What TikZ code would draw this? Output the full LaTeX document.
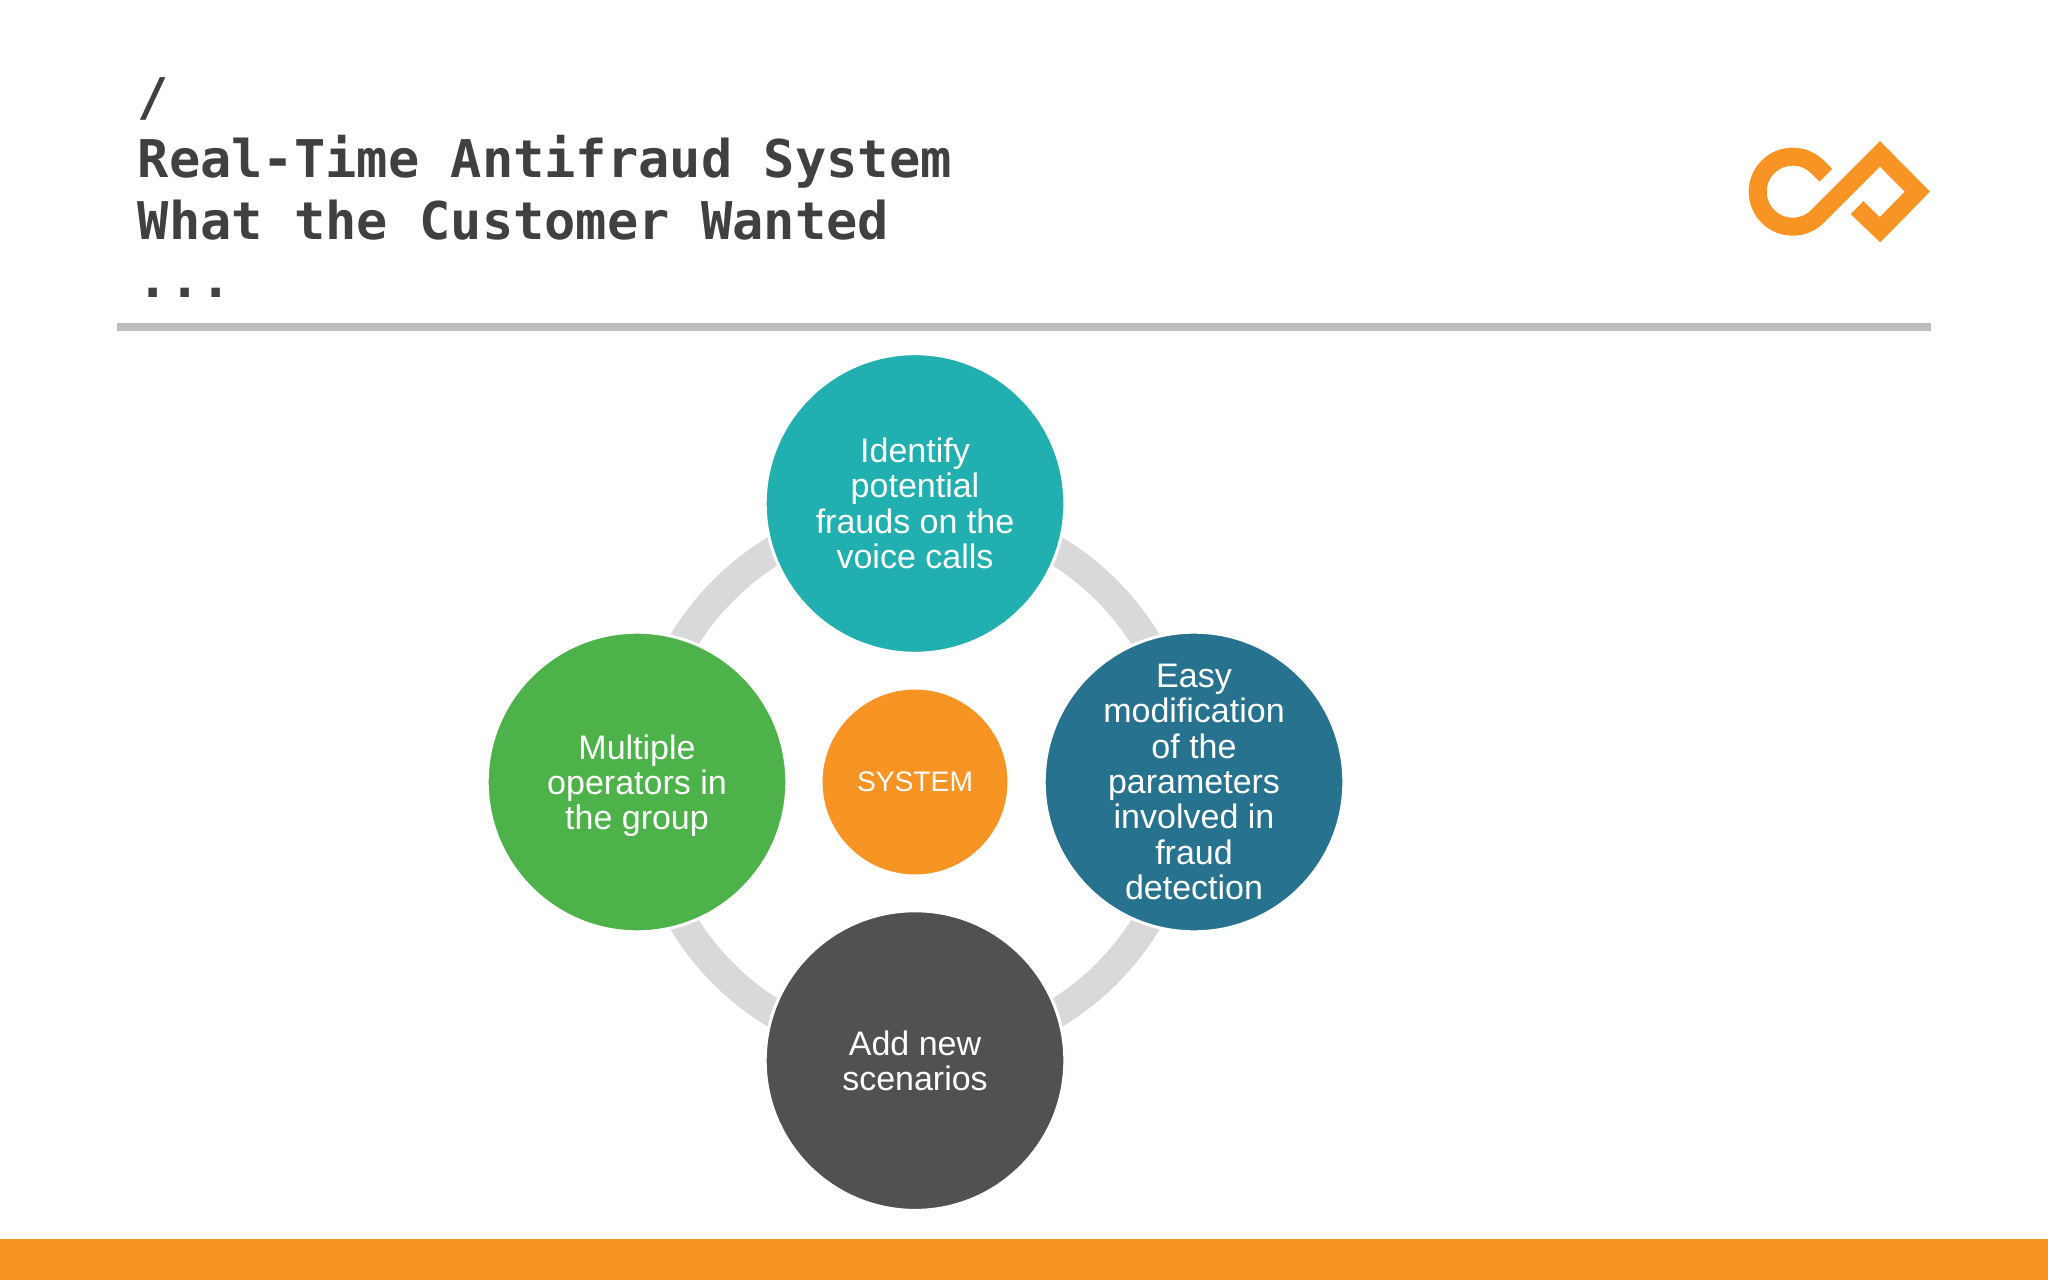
\documentclass[tikz,border=0pt]{standalone}
\usepackage{fontspec}
\setmainfont{Liberation Sans}
\newfontfamily\titlefont{DejaVu Sans Mono}[BoldFont={DejaVu Sans Mono Bold}]
\definecolor{orangeA}{HTML}{F79423}
\definecolor{tealA}{HTML}{22AFAF}
\definecolor{blueA}{HTML}{26728F}
\definecolor{greenA}{HTML}{4EB24B}
\definecolor{greyA}{HTML}{525052}
\definecolor{ringA}{HTML}{D9D9DB}
\definecolor{ruleA}{HTML}{BDBDBD}
\definecolor{titleA}{HTML}{404040}
\tikzset{
  x=0.5pt,y=0.5pt,
  bubble/.style={circle,draw=white,line width=1.5pt,minimum size=149.8pt,inner sep=0pt,
    text=white,align=center,font=\fontsize{17}{17.65}\selectfont},
  hub/.style={bubble,minimum size=94pt,font=\fontsize{14.1}{17}\selectfont},
  titleblock/.style={anchor=north west,inner sep=0pt,align=left,text=titleA,
    font=\titlefont\bfseries\fontsize{26}{31}\selectfont},
}
\begin{document}
\begin{tikzpicture}
\useasboundingbox (0,0) rectangle (2048,1280);
\fill[white] (0,0) rectangle (2048,1280);
\fill[orangeA] (0,0) rectangle (2048,41.5);
\fill[ruleA] (117,949) rectangle (1931,957);
\node[titleblock] (title) at (137.3,1203) {/\\Real-Time Antifraud System\\What the Customer Wanted\\[-2pt]...};
% logo
\draw[orangeA,line width=9pt,line join=miter,line cap=butt]
  (1825.75,1104.75) -- (1817.45,1113.05)
  arc[start angle=45,end angle=315,radius=35]
  -- (1880,1126.1) -- (1917.3,1088.3) -- (1880,1050.3) -- (1857,1072.3);
% ring
\coordinate (ringc) at (915,498);
\draw[ringA,line width=14.5pt] (ringc) circle[radius=271];
% nodes
\node[bubble,fill=tealA] (top) at (915,776.5) {Identify\\potential\\frauds on the\\voice calls};
\node[bubble,fill=greenA] (left) at (637,498) {Multiple\\operators in\\\smash{the group}};
\node[bubble,fill=blueA] (right) at (1194,498) {Easy\\modification\\of the\\parameters\\involved in\\fraud\\detection};
\node[bubble,fill=greyA] (bottom) at (915,219.4) {Add new\\scenarios};
\node[hub,fill=orangeA] (hub) at (ringc) {SYSTEM};
\end{tikzpicture}
\end{document}
